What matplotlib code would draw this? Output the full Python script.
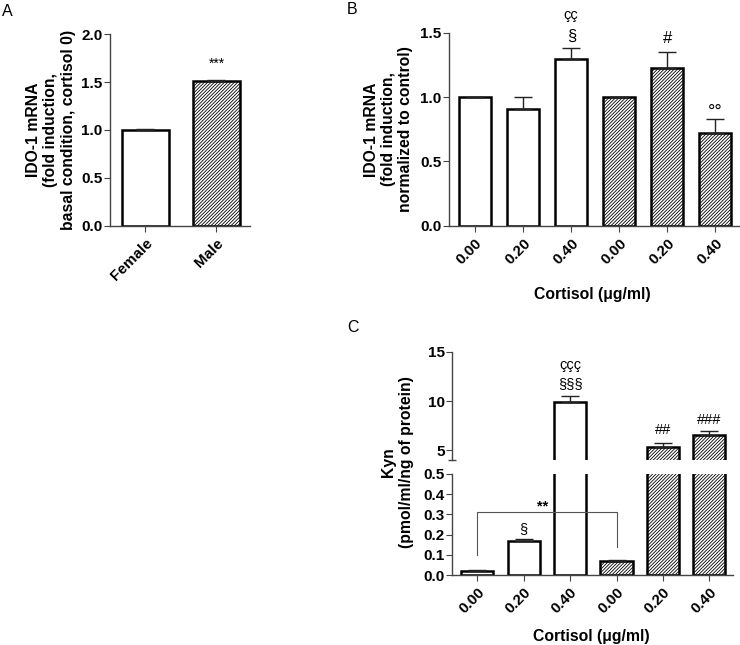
import matplotlib
matplotlib.use("Agg")
import matplotlib.pyplot as plt
import numpy as np

plt.rcParams['font.family'] = ['Liberation Sans', 'DejaVu Sans']
plt.rcParams['font.weight'] = 'bold'
plt.rcParams['hatch.linewidth'] = 0.6
plt.rcParams['hatch.color'] = '#333333'

# panel A
sexes = ["Female", "Male"]
a_vals = [1.00, 1.51]
a_err = [0.005, 0.01]

# panel B
doses = ["0.00", "0.20", "0.40", "0.00", "0.20", "0.40"]
b_vals = [1.00, 0.91, 1.30, 1.00, 1.23, 0.72]
b_err = [0.005, 0.09, 0.08, 0.005, 0.12, 0.11]

# panel C
c_vals = [0.021, 0.17, 9.90, 0.069, 5.38, 6.57]
c_err = [0.002, 0.008, 0.62, 0.006, 0.33, 0.37]
hatched = [False, False, False, True, True, True]

spine_col = '#444444'
fs = 11
lfs = 11.3


def style(ax):
    for s in ['top', 'right']:
        ax.spines[s].set_visible(False)
    for s in ['left', 'bottom']:
        ax.spines[s].set_color(spine_col)
        ax.spines[s].set_linewidth(1.0)
    ax.tick_params(direction='out', length=4, width=0.8, color=spine_col, labelsize=fs)
    ax.tick_params(axis='y', pad=1.5)
    for lab in ax.get_yticklabels():
        lab.set_fontweight('bold')


def bars(ax, vals, errs, hatch_flags, width):
    x = np.arange(len(vals))
    for i, v in enumerate(vals):
        ax.bar(x[i], v, width=width, color='white', edgecolor='black', linewidth=1.8,
               hatch='//////////' if hatch_flags[i] else None, zorder=2)
    ax.errorbar(x, vals, yerr=[np.zeros(len(vals)), errs], fmt='none', ecolor='#222222',
                elinewidth=1.0, capsize=6.5, capthick=1.0, zorder=3)
    return x


fig = plt.figure(figsize=(7.4, 6.45), dpi=100)

# ---- A
axA = fig.add_axes([0.1486, 0.650, 0.189, 0.297])
xa = bars(axA, a_vals, a_err, [False, True], 0.66)
axA.set_xlim(-0.5, 1.47)
axA.set_ylim(0, 2.0)
axA.set_yticks([0, 0.5, 1.0, 1.5, 2.0])
axA.set_yticklabels(["0.0", "0.5", "1.0", "1.5", "2.0"])
axA.set_xticks(xa)
axA.set_xticklabels(sexes, rotation=45, ha='right', rotation_mode='anchor', fontsize=fs, fontweight='bold')
axA.set_ylabel("IDO-1 mRNA\n(fold induction,\nbasal condition, cortisol 0)", fontsize=lfs, fontweight='bold', labelpad=4)
axA.text(1, 1.69, "***", ha='center', va='center', fontsize=10, fontweight='normal')
style(axA)

# ---- B
axB = fig.add_axes([0.607, 0.650, 0.392, 0.299])
xb = bars(axB, b_vals, b_err, hatched, 0.67)
axB.set_xlim(-0.54, 5.5)
axB.set_ylim(0, 1.5)
axB.set_yticks([0, 0.5, 1.0, 1.5])
axB.set_yticklabels(["0.0", "0.5", "1.0", "1.5"])
axB.set_xticks(xb)
axB.set_xticklabels(doses, rotation=45, ha='right', rotation_mode='anchor', fontsize=fs, fontweight='bold')
axB.set_xlabel("Cortisol (μg/ml)", fontsize=lfs, fontweight='bold', va='center')
axB.xaxis.set_label_coords(0.495, -0.354)
axB.set_ylabel("IDO-1 mRNA\n(fold induction,\nnormalized to control)", fontsize=lfs, fontweight='bold', labelpad=5)
axB.text(2, 1.64, "çç", ha='center', va='center', fontsize=10.5, fontweight='normal')
axB.text(2, 1.47, "§", ha='center', va='center', fontsize=12, fontweight='normal')
axB.text(4, 1.46, "#", ha='center', va='center', fontsize=12, fontweight='normal')
axB.text(5, 0.88, "°°", ha='center', va='center', fontsize=13, fontweight='normal')
style(axB)

# ---- C (broken axis)
axCu = fig.add_axes([0.611, 0.287, 0.379, 0.168])
axCl = fig.add_axes([0.611, 0.1085, 0.379, 0.157])
for ax in (axCu, axCl):
    bars(ax, c_vals, c_err, hatched, 0.69)
    ax.set_xlim(-0.54, 5.5)
    style(ax)
axCu.set_ylim(4.05, 15)
axCu.set_yticks([5, 10, 15])
axCu.set_yticklabels(["5", "10", "15"])
axCu.spines['bottom'].set_visible(False)
axCu.tick_params(axis='x', bottom=False, labelbottom=False)
axCu.plot([0], [0], transform=axCu.transAxes, marker='_', markersize=6, color=spine_col, clip_on=False)
axCl.set_ylim(0, 0.5)
axCl.set_yticks([0, 0.1, 0.2, 0.3, 0.4, 0.5])
axCl.set_yticklabels(["0.0", "0.1", "0.2", "0.3", "0.4", "0.5"])
axCl.set_xticks(np.arange(6))
axCl.set_xticklabels(doses, rotation=45, ha='right', rotation_mode='anchor', fontsize=fs, fontweight='bold')
axCl.set_xlabel("Cortisol (μg/ml)", fontsize=lfs, fontweight='bold', va='center')
axCl.xaxis.set_label_coords(0.498, -0.612)
for lab in axCu.get_yticklabels() + axCl.get_yticklabels():
    lab.set_fontweight('bold')

axCu.text(2, 13.6, "ççç", ha='center', va='center', fontsize=10.5, fontweight='normal')
axCu.text(2, 11.7, "§§§", ha='center', va='center', fontsize=10.5, fontweight='normal')
axCu.text(4, 7.05, "##", ha='center', va='center', fontsize=10.5, fontweight='normal')
axCu.text(5, 8.1, "###", ha='center', va='center', fontsize=10.5, fontweight='normal')
axCl.text(1, 0.228, "§", ha='center', va='center', fontsize=10.5, fontweight='normal')
axCl.plot([0, 0, 3, 3], [0.1, 0.31, 0.31, 0.14], color='#555555', linewidth=0.8, zorder=4)
axCl.text(1.4, 0.338, "**", ha='center', va='center', fontsize=10.5, fontweight='bold')

fig.text(0.537, 0.284, "Kyn\n(pmol/ml/ng of protein)", rotation=90, ha='center', va='center',
         fontsize=lfs, fontweight='bold')

# panel letters
fig.text(0.003, 0.994, "A", fontsize=11.5, fontweight='normal', va='top')
fig.text(0.469, 0.997, "B", fontsize=11.5, fontweight='normal', va='top')
fig.text(0.469, 0.504, "C", fontsize=11.5, fontweight='normal', va='top')

fig.savefig("out.png", dpi=100)
